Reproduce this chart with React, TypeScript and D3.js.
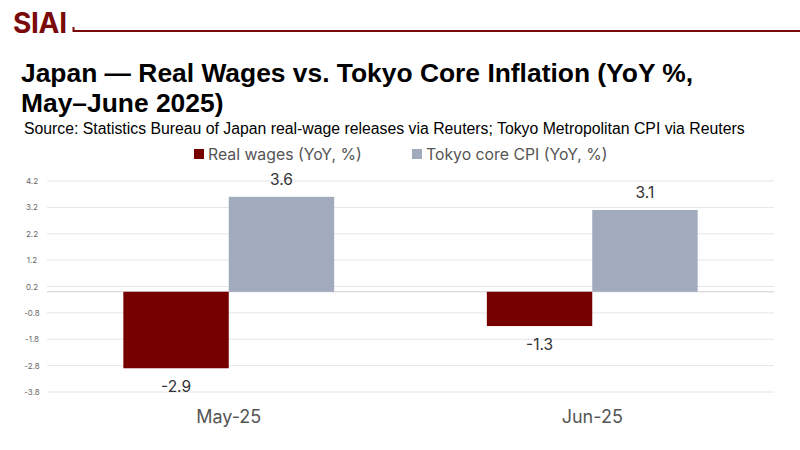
import { useMemo } from 'react';
import * as d3 from 'd3';

const WIDTH = 800;
const HEIGHT = 450;

const categories = ['May-25', 'Jun-25'];
const seriesNames = ['Real wages (YoY, %)', 'Tokyo core CPI (YoY, %)'];
const realWages = [-2.9, -1.3];
const tokyoCoreCpi = [3.6, 3.1];
const yTicks = [4.2, 3.2, 2.2, 1.2, 0.2, -0.8, -1.8, -2.8, -3.8];

const COLORS = ['#760000', '#a2aabe'];
const BRAND = '#7a0a0a';
const UI_FONT = 'Inter, "Noto Sans", sans-serif';
const TITLE_FONT = '"Liberation Sans", Arial, sans-serif';

const PLOT = { left: 47, right: 774, top: 181, bottom: 392 };

export default function App() {
  const values = [realWages, tokyoCoreCpi];

  const { x0, x1, y } = useMemo(() => {
    const x0 = d3
      .scaleBand<string>()
      .domain(categories)
      .range([PLOT.left, PLOT.right])
      .paddingInner(0.42)
      .paddingOuter(0.21);
    const x1 = d3
      .scaleBand<string>()
      .domain(seriesNames)
      .range([0, x0.bandwidth()])
      .padding(0);
    const y = d3.scaleLinear().domain([-3.8, 4.2]).range([PLOT.bottom, PLOT.top]);
    return { x0, x1, y };
  }, []);

  return (
    <div style={{ position: 'fixed', left: 0, top: 0, width: WIDTH, height: HEIGHT, background: '#fff' }}>
      <svg width={WIDTH} height={HEIGHT} style={{ display: 'block' }}>
        {/* header */}
        <text x={13} y={33} fontFamily={UI_FONT} fontWeight={700} fontSize={28} fill={BRAND} letterSpacing={-0.3}>
          SIAI
        </text>
        <path d={`M73.5,27 V31 H800`} fill="none" stroke={BRAND} strokeWidth={2} />

        <text fontFamily={TITLE_FONT} fontWeight={700} fontSize={26.4} fill="#000">
          <tspan x={21} y={82}>Japan — Real Wages vs. Tokyo Core Inflation (YoY %,</tspan>
          <tspan x={21} y={112}>May–June 2025)</tspan>
        </text>
        <text x={24} y={134} fontFamily={TITLE_FONT} fontSize={15.8} fill="#000">
          Source: Statistics Bureau of Japan real-wage releases via Reuters; Tokyo Metropolitan CPI via Reuters
        </text>

        {/* legend */}
        {seriesNames.map((name, i) => {
          const lx = i === 0 ? 194 : 412;
          return (
            <g key={name}>
              <rect x={lx} y={149} width={10} height={10} fill={COLORS[i]} />
              <text x={lx + 14} y={159.5} fontFamily={UI_FONT} fontSize={15.8} fill="#555">
                {name}
              </text>
            </g>
          );
        })}

        {/* grid + y ticks */}
        {yTicks.map((t) => (
          <g key={t}>
            <line x1={PLOT.left} x2={PLOT.right} y1={y(t)} y2={y(t)} stroke="#e4e4ec" strokeWidth={1} />
            <text x={32} y={y(t) + 3} textAnchor="middle" fontFamily={UI_FONT} fontSize={8} fill="#666">
              {t.toFixed(1)}
            </text>
          </g>
        ))}
        <line x1={PLOT.left} x2={PLOT.right} y1={y(0)} y2={y(0)} stroke="#cfcfcf" strokeWidth={1} />

        {/* bars */}
        {categories.map((cat, ci) => (
          <g key={cat} transform={`translate(${x0(cat)},0)`}>
            {seriesNames.map((s, si) => {
              const v = values[si][ci];
              const top = Math.min(y(v), y(0));
              const h = Math.abs(y(v) - y(0));
              const bx = x1(s)!;
              const cx = bx + x1.bandwidth() / 2;
              return (
                <g key={s}>
                  <rect x={bx} y={top} width={x1.bandwidth()} height={h} fill={COLORS[si]} />
                  <text
                    x={cx}
                    y={v >= 0 ? y(v) - 12 : y(v) + 24}
                    textAnchor="middle"
                    fontFamily={UI_FONT}
                    fontSize={15.5}
                    fill="#333"
                  >
                    {v.toFixed(1)}
                  </text>
                </g>
              );
            })}
          </g>
        ))}

        {/* x labels */}
        {categories.map((cat) => (
          <text
            key={cat}
            x={x0(cat)! + x0.bandwidth() / 2}
            y={423}
            textAnchor="middle"
            fontFamily={UI_FONT}
            fontSize={18}
            fill="#555"
          >
            {cat}
          </text>
        ))}
      </svg>
    </div>
  );
}
